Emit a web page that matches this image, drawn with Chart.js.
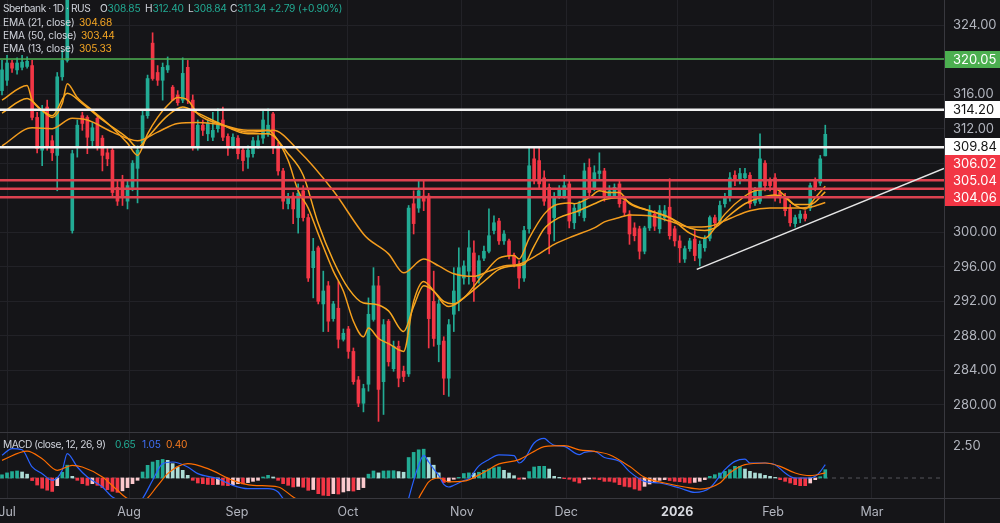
<!DOCTYPE html>
<html><head><meta charset="utf-8">
<script src="https://cdn.jsdelivr.net/npm/chart.js@4.4.1/dist/chart.umd.min.js"></script>
<style>
html,body{margin:0;padding:0;background:#151518;width:1000px;height:523px;overflow:hidden;}
#wrap{position:relative;width:1000px;height:523px;background:#151518;}
canvas{position:absolute;left:0;}
#c1{top:0;}
#c2{top:432px;}
.lg{position:absolute;font-family:Inter,"Noto Sans",sans-serif;font-size:10.2px;line-height:13px;color:#d1d4dc;white-space:pre;z-index:3;letter-spacing:-0.2px;}
.t{letter-spacing:-0.45px;}
.g{color:#22ab94}.o{color:#f5a623}.b{color:#3f6ff5}.r{color:#f57a1f}
</style></head><body>
<div id="wrap">
<canvas id="c1" width="1000" height="432"></canvas>
<canvas id="c2" width="1000" height="91"></canvas>
<div class="lg t" style="top:2px;left:3px">Sberbank · 1D · RUS</div>
<div class="lg" style="top:2px;left:100px">O<span class="g">308.85</span></div>
<div class="lg" style="top:2px;left:145px">H<span class="g">312.40</span></div>
<div class="lg" style="top:2px;left:188px">L<span class="g">308.84</span></div>
<div class="lg" style="top:2px;left:230px">C<span class="g">311.34 +2.79 (+0.90%)</span></div>
<div class="lg" style="top:16px;left:3px">EMA (21, close)</div><div class="lg o" style="top:16px;left:79px">304.68</div>
<div class="lg" style="top:29px;left:3px">EMA (50, close)</div><div class="lg o" style="top:29px;left:81px">303.44</div>
<div class="lg" style="top:42px;left:3px">EMA (13, close)</div><div class="lg o" style="top:42px;left:79px">305.33</div>
<div class="lg t" style="top:438px;left:3px">MACD (close, 12, 26, 9)</div>
<div class="lg g" style="top:438px;left:115px">0.65</div>
<div class="lg b" style="top:438px;left:142px">1.05</div>
<div class="lg r" style="top:438px;left:166px">0.40</div>
</div>
<script>
// ---------- DATA (daily bars, index 0 = 30 Jun 2025) ----------
const open = [316.4,317.6,319.6,318.8,319.1,319.2,319.3,313.3,309.5,314.5,
310.6,308.9,318.0,319.9,300.2,309.8,313.5,313.3,310.6,313.2,
310.9,309.2,309.5,305.2,306.0,303.6,305.2,307.4,310.3,313.5,
321.9,318.5,317.6,318.8,316.8,315.9,315.3,319.1,315.3,309.8,
312.4,311.4,311.0,312.0,313.0,311.1,310.0,310.9,309.5,308.7,
309.1,310.0,310.9,311.4,313.7,310.0,307.1,303.3,304.2,301.7,
304.8,301.7,295.9,298.2,291.7,293.8,290.0,291.2,287.6,288.8,
286.2,282.9,280.2,282.4,289.9,293.8,282.7,289.7,284.2,286.8,
283.9,283.6,303.3,302.8,304.2,304.2,292.0,287.0,287.4,283.1,
290.5,292.0,294.7,295.5,297.6,294.7,297.0,297.8,300.2,301.3,
299.0,299.0,297.3,296.3,294.7,300.4,308.5,308.3,306.3,305.2,
301.7,304.2,304.2,305.6,301.1,302.3,301.7,307.5,305.0,306.8,
307.1,304.2,304.2,305.6,303.6,302.1,300.5,300.4,297.8,300.5,
302.1,300.4,301.7,302.9,300.4,299.0,296.9,298.1,299.2,297.0,
298.2,299.3,301.7,301.3,303.3,304.0,306.6,306.0,306.3,306.6,
303.4,303.6,308.0,306.0,306.3,304.6,304.0,302.8,301.0,301.6,
302.1,302.8,306.0,305.7,308.85];
const high = [319.9,320.5,319.9,320.2,320.5,320.3,319.9,313.9,314.7,315.3,
311.2,318.5,321.1,328.6,309.5,313.0,313.9,313.5,312.7,313.5,
311.2,309.7,309.8,306.0,306.6,306.0,308.3,310.0,314.1,318.2,
323.1,319.3,319.6,320.3,317.0,316.4,320.2,319.9,315.9,313.0,
313.0,313.0,313.9,314.3,314.5,311.4,311.4,311.2,309.8,310.0,
311.0,311.2,314.1,314.3,313.9,310.4,307.4,304.5,304.6,305.6,
305.4,302.1,299.3,298.4,295.5,294.3,292.0,294.3,288.8,289.1,
286.6,283.3,282.4,292.4,295.9,294.9,289.9,289.9,287.4,287.4,
284.5,303.1,304.8,306.0,306.0,304.5,295.5,292.2,287.9,289.9,
295.9,298.2,296.7,300.2,299.0,297.3,298.4,302.7,301.9,301.6,
300.2,299.2,297.6,296.7,300.7,309.8,309.8,309.8,307.1,305.6,
304.6,305.4,306.6,306.0,303.3,303.6,308.0,308.5,307.7,309.2,
307.4,305.4,305.6,306.0,304.2,302.5,301.1,300.7,300.7,303.1,
302.5,303.1,303.1,306.2,300.7,299.6,298.4,299.3,300.2,299.0,
299.6,301.9,302.0,303.6,304.5,306.9,307.1,307.4,307.4,306.9,
305.2,311.4,308.3,306.3,306.8,305.0,304.5,303.2,302.0,302.5,
302.5,305.7,306.3,308.9,312.40];
const low = [315.9,317.0,318.5,318.3,318.8,319.0,313.0,309.2,307.7,309.5,
308.3,304.8,317.6,319.7,299.9,308.7,311.8,309.1,310.0,309.5,
307.1,307.7,304.2,303.1,303.1,302.7,304.8,303.4,309.8,313.2,
317.6,317.0,315.3,318.5,315.3,314.7,315.0,314.9,309.5,309.5,
311.2,310.6,310.6,311.6,310.6,308.9,309.7,308.5,307.1,307.4,
308.7,309.7,310.3,311.1,309.1,306.6,302.7,302.7,301.0,299.9,
301.3,294.3,292.4,291.7,288.5,288.5,289.7,286.6,287.4,285.4,
282.4,279.8,279.2,281.6,289.7,278.1,278.9,284.5,283.9,282.1,
282.7,283.3,299.8,302.3,302.5,286.6,286.8,285.0,281.2,281.0,
288.5,290.9,294.0,294.0,292.0,294.1,296.7,297.6,299.8,298.6,
298.6,296.9,296.0,293.5,294.3,299.9,305.6,305.0,303.1,297.5,
299.0,303.9,303.9,300.5,300.4,301.9,301.3,304.2,304.8,306.2,
303.6,303.9,304.0,302.9,301.9,298.6,299.0,296.9,297.5,300.2,
300.2,299.9,301.3,299.2,298.4,296.5,296.5,297.8,296.7,296.1,
297.8,299.0,300.6,301.0,302.9,303.6,305.4,305.6,306.0,302.8,
303.1,303.3,304.8,304.8,303.6,303.4,301.9,300.7,300.6,301.1,
301.3,302.5,304.8,305.4,308.84];
const close = [318.8,319.6,319.0,319.6,319.7,319.8,313.3,309.7,314.1,309.8,
309.2,318.0,319.9,327.5,309.1,312.4,312.6,311.0,312.1,309.8,
308.9,308.5,304.6,303.6,304.0,305.4,308.0,309.5,313.5,317.8,
317.8,317.6,319.1,319.3,315.3,315.0,318.4,315.3,309.8,312.4,
311.8,312.6,311.8,312.7,311.0,309.8,311.0,309.1,308.3,309.5,
310.6,310.6,313.0,312.4,309.8,307.1,303.6,304.0,302.7,304.5,
301.7,294.7,297.8,292.0,293.2,289.7,291.7,287.6,288.3,286.2,
282.7,280.2,281.9,290.5,293.8,281.8,289.3,285.0,286.8,283.1,
283.3,302.8,301.0,304.8,303.6,290.0,287.7,291.7,283.1,289.3,
293.2,295.9,296.1,298.2,294.3,296.7,297.8,299.6,301.1,299.0,
299.8,297.3,296.3,294.7,300.2,307.7,306.0,305.6,303.6,299.8,
304.0,305.0,305.4,301.3,302.8,303.3,307.1,304.6,306.9,307.1,
304.0,304.8,305.2,303.3,302.3,299.8,299.6,297.8,300.5,302.5,
300.7,302.5,302.5,299.6,299.0,298.2,298.1,299.0,297.3,298.6,
299.2,301.7,301.1,303.1,304.0,306.3,306.0,306.8,306.8,303.3,
304.8,308.5,305.4,305.4,304.0,304.0,302.5,301.1,301.7,302.1,
301.6,305.4,305.2,308.5,311.34];

// EMA readings [bar index, value]
const ema13 = [[0,315.3],[5,317.0],[6,315.3],[8,314.1],[10,313.3],[12,314.9],[13,317.2],[15,315.6],[18,314.1],[22,312.1],[25,310.3],[27,308.9],[29,311.4],[31,313.3],[33,314.7],[35,315.6],[37,315.3],[39,313.7],[41,313.0],[43,312.6],[49,311.8],[53,311.8],[54,311.4],[57,308.3],[59,304.8],[61,302.8],[63,299.8],[66,295.5],[68,293.2],[70,289.7],[72,287.9],[73,288.9],[75,287.7],[77,287.1],[79,286.4],[80,286.2],[82,292.0],[84,294.3],[86,293.2],[88,291.7],[89,291.4],[92,292.4],[96,295.2],[99,297.0],[102,297.3],[103,296.9],[105,299.3],[108,302.1],[110,303.1],[113,303.4],[114,303.3],[117,304.0],[119,304.8],[121,304.6],[123,304.6],[125,303.3],[129,302.5],[133,301.7],[137,299.9],[140,299.3],[142,300.5],[144,302.1],[148,304.2],[150,304.8],[154,305.0],[156,304.2],[158,303.1],[160,302.7],[162,304.0],[164,305.33]];
const ema21 = [[0,313.8],[5,315.5],[8,314.1],[10,313.5],[13,316.1],[16,314.9],[20,313.0],[25,310.9],[27,309.8],[29,311.0],[33,313.5],[36,314.5],[39,313.8],[43,312.7],[49,311.4],[53,311.4],[57,309.1],[60,306.6],[63,301.0],[66,296.7],[69,293.5],[72,291.8],[74,291.7],[77,290.9],[80,288.5],[82,291.4],[84,293.8],[86,293.2],[88,292.0],[90,291.7],[92,292.4],[96,294.3],[99,295.7],[102,296.1],[104,296.3],[106,298.4],[108,300.4],[111,301.7],[114,302.3],[118,303.3],[120,303.8],[123,304.0],[126,303.1],[130,302.3],[133,301.7],[137,300.5],[140,300.2],[142,300.5],[145,302.0],[148,303.3],[151,304.0],[154,304.3],[156,304.0],[158,303.2],[161,303.2],[164,304.68]];
const ema50 = [[0,310.0],[6,312.1],[10,312.0],[14,313.2],[17,313.0],[22,311.6],[27,310.6],[31,311.6],[35,312.6],[39,312.7],[43,312.5],[49,311.6],[54,311.8],[59,309.5],[66,304.8],[72,299.8],[73,299.2],[77,297.5],[80,295.3],[84,296.9],[87,296.1],[90,295.2],[94,294.9],[97,295.5],[100,296.1],[103,296.3],[107,297.5],[110,298.6],[114,299.6],[118,300.5],[120,301.2],[123,301.7],[125,302.0],[129,301.9],[133,301.3],[137,300.6],[141,300.7],[145,301.6],[149,302.5],[153,302.8],[157,302.8],[161,302.9],[164,303.44]];

// MACD histogram (one value per bar)
const hist = [0.25,0.4,0.5,0.55,0.47,0.3,-0.2,-0.55,-0.8,-0.95,
-1.05,-0.6,0.45,1.0,0.13,-0.18,-0.44,-0.57,-0.44,-0.57,
-0.75,-0.91,-1.04,-1.12,-1.0,-0.75,-0.44,-0.18,0.47,0.99,
1.25,1.38,1.45,1.38,1.12,0.86,0.6,0.21,-0.18,-0.39,
-0.44,-0.5,-0.52,-0.5,-0.57,-0.6,-0.52,-0.44,-0.46,-0.36,
-0.26,-0.18,0.08,0.21,0.08,-0.18,-0.44,-0.57,-0.7,-0.65,
-0.72,-0.96,-0.9,-1.22,-1.35,-1.38,-1.22,-1.25,-1.09,-1.0,
-1.02,-0.91,-0.75,0.3,0.55,0.4,0.55,0.56,0.57,0.5,
0.45,1.6,2.0,2.2,2.25,1.6,1.0,0.4,-0.35,-0.3,
-0.1,0.05,0.35,0.4,0.38,0.45,0.6,0.7,0.8,0.86,
0.6,0.39,0.18,-0.1,-0.08,0.5,0.86,0.91,0.91,0.7,
0.13,0.05,-0.05,-0.1,-0.26,-0.39,-0.13,-0.08,-0.08,-0.13,
-0.26,-0.26,-0.33,-0.52,-0.65,-0.7,-0.86,-0.96,-0.65,-0.47,
-0.34,-0.18,-0.13,-0.2,-0.26,-0.29,-0.34,-0.39,-0.34,-0.26,
-0.13,0.13,0.26,0.39,0.52,0.65,0.91,0.91,0.7,0.52,
0.39,0.34,0.21,0.13,0.05,-0.13,-0.26,-0.39,-0.52,-0.6,
-0.6,-0.39,-0.13,0.1,0.65];
const macdLine = [[0,1.77],[2,2.3],[4,2.2],[6,0.86],[8,0.34],[10,-0.18],[12,0.6],[13,1.9],[15,0.86],[17,0.08],[20,-0.7],[22,-1.48],[25,-1.9],[27,-2.0],[28,-1.6],[30,-0.18],[32,1.12],[34,1.25],[37,0.86],[39,0.34],[43,-0.05],[46,-0.57],[49,-0.83],[53,-0.83],[55,-1.09],[56,-1.6],[60,-2.6],[66,-4.3],[72,-5.2],[76,-4.4],[80,-3.1],[81,-1.6],[82,-0.2],[83,1.0],[84,1.77],[85,1.25],[86,0.7],[87,0.2],[88,-0.5],[89,-0.7],[90,-0.57],[92,-0.2],[93,-0.05],[95,0.95],[97,1.45],[99,1.8],[102,1.74],[103,1.17],[104,1.43],[106,2.73],[108,3.1],[109,2.8],[110,2.55],[112,2.47],[115,1.82],[116,2.0],[118,2.08],[120,1.6],[123,1.3],[125,0.5],[128,-0.26],[131,-0.39],[135,-0.78],[138,-1.12],[141,-0.78],[144,0.65],[146,1.3],[148,1.48],[149,1.17],[152,1.17],[154,1.04],[156,0.39],[158,0.0],[161,0.0],[162,0.13],[163,0.5],[164,1.05]];
const signalLine = [[0,1.38],[5,2.1],[8,1.5],[11,0.6],[14,0.99],[16,0.86],[20,0.08],[23,-0.96],[25,-1.6],[28,-1.8],[31,-0.6],[33,0.34],[37,1.12],[41,0.73],[46,-0.18],[50,-0.57],[55,-0.7],[58,-1.48],[62,-2.4],[70,-4.2],[76,-4.8],[80,-3.55],[82,-2.6],[83,-1.6],[84,-0.9],[85,-0.3],[87,0.0],[89,-0.3],[92,-0.25],[96,0.45],[99,1.1],[103,1.43],[106,2.08],[108,2.45],[112,2.53],[115,2.2],[118,2.08],[121,1.82],[125,0.91],[128,0.05],[132,-0.39],[136,-0.7],[139,-0.86],[143,-0.39],[145,0.4],[148,1.04],[152,1.17],[155,0.91],[158,0.39],[161,0.18],[164,0.4]];

// Horizontal levels and trend line
const levelValues = [320.05, 314.20, 309.84, 306.02, 305.04, 304.06];
const levelColors = ['#4caf50', '#f2f2f2', '#f2f2f2', '#de4250', '#de4250', '#de4250'];
const levelWidths = [1.5, 2.5, 2.5, 2.5, 2.5, 2.5];
const badgeBg = ['#4caf50', '#ffffff', '#ffffff', '#f23645', '#f23645', '#f23645'];
const badgeFg = ['#ffffff', '#131313', '#131313', '#ffffff', '#ffffff', '#ffffff'];
const trendIdx = [138.4, 187.65];
const trendVal = [295.7, 307.4];

// Axis ticks
const priceTicks = [280, 284, 288, 292, 296, 300, 304, 308, 312, 316, 320, 324];
const macdTicks = [2.5];
const monthTickIdx = [1.0, 25.3, 46.8, 68.9, 91.6, 112.4, 134.5, 153.6, 173.3];
const monthTickLabel = ['Jul', 'Aug', 'Sep', 'Oct', 'Nov', 'Dec', '2026', 'Feb', 'Mar'];

// ---------- CHART ----------
Chart.defaults.font.family = 'Inter, "Noto Sans", sans-serif';
const X_MIN = -0.4, X_MAX = 187.65;
const Y_MIN = 276.87, Y_MAX = 326.895;
const M_MIN = -1.56, M_MAX = 3.59;
const UP = '#22ab94', DOWN = '#f23645';
const GRID = '#222227';
const AXIS_LINE = '#38383e';
const TICK_COL = '#b2b5be';

const bars = close.map((c, i) => i);
const candleCol = bars.map(i => close[i] >= open[i] ? UP : DOWN);
const pts = arr => arr.map(p => ({x: p[0], y: p[1]}));
const emaDs = (label, arr, col) => ({
  type: 'line', label, data: pts(arr), borderColor: col, borderWidth: 1.5,
  pointRadius: 0, cubicInterpolationMode: 'monotone', order: 5
});
const levelDs = levelValues.map((v, i) => ({
  type: 'line', label: 'L' + v, data: [{x: X_MIN, y: v}, {x: X_MAX, y: v}],
  borderColor: levelColors[i], borderWidth: levelWidths[i], pointRadius: 0, order: 3
}));

const fixedY = w => s => { s.width = w; s.paddingTop = 0; s.paddingBottom = 0; };
const fixedX = h => s => { s.height = h; s.paddingLeft = 0; s.paddingRight = 0; };

const badgePlugin = {
  id: 'badges',
  afterDraw(chart) {
    const ys = chart.scales.y, ctx = chart.ctx, h = 17;
    const items = levelValues.map((v, i) => ({v, y: ys.getPixelForValue(v), i}));
    items.sort((a, b) => b.y - a.y);
    let prev = Infinity;
    items.forEach(it => { it.c = Math.min(it.y, prev - h); prev = it.c; });
    ctx.save();
    ctx.font = '13px Inter, "Noto Sans", sans-serif';
    ctx.textBaseline = 'middle';
    items.forEach(it => {
      ctx.fillStyle = badgeBg[it.i];
      ctx.fillRect(ys.left + 1, Math.round(it.c - h / 2), 1000 - ys.left - 1, h);
      ctx.fillStyle = badgeFg[it.i];
      ctx.fillText(it.v.toFixed(2), ys.left + 9, it.c + 0.5);
    });
    ctx.restore();
  }
};

new Chart(document.getElementById('c1'), {
  type: 'bar',
  data: {
    datasets: [
      {label: 'wick', data: bars.map(i => ({x: i, y: [low[i], high[i]]})), backgroundColor: candleCol,
       barThickness: 1, grouped: false, order: 10, minBarLength: 1},
      {label: 'body', data: bars.map(i => ({x: i, y: [open[i], close[i]]})), backgroundColor: candleCol,
       barThickness: 3, grouped: false, order: 9, minBarLength: 1},
      emaDs('EMA50', ema50, '#f39c1e'),
      emaDs('EMA21', ema21, '#f7a71f'),
      emaDs('EMA13', ema13, '#f5a01c'),
      ...levelDs,
      {type: 'line', label: 'trend', data: trendIdx.map((x, i) => ({x, y: trendVal[i]})),
       borderColor: '#e6e6e6', borderWidth: 1.5, pointRadius: 0, order: 2}
    ]
  },
  options: {
    responsive: false, animation: false, devicePixelRatio: 1,
    layout: {padding: 0},
    plugins: {legend: {display: false}, tooltip: {enabled: false}},
    scales: {
      x: {type: 'linear', min: X_MIN, max: X_MAX, offset: false,
          grid: {color: GRID, drawTicks: false, offset: false}, border: {display: false},
          ticks: {display: false},
          afterBuildTicks: a => { a.ticks = monthTickIdx.map(v => ({value: v})); },
          afterFit: fixedX(0)},
      y: {position: 'right', min: Y_MIN, max: Y_MAX,
          grid: {color: GRID, drawTicks: false}, border: {display: true, color: AXIS_LINE},
          ticks: {padding: 9, color: TICK_COL, font: {size: 13}, callback: v => Number(v).toFixed(2)},
          afterBuildTicks: a => { a.ticks = priceTicks.map(v => ({value: v})); },
          afterFit: fixedY(56)}
    }
  },
  plugins: [badgePlugin]
});

const histCol = hist.map((v, i) => {
  const p = i > 0 ? hist[i - 1] : v;
  if (v >= 0) return v >= p ? '#22ab94' : '#acdcd5';
  return v <= p ? '#f23645' : '#fbc9cd';
});

const paneLines = {
  id: 'paneLines',
  afterDraw(chart) {
    const ctx = chart.ctx, ca = chart.chartArea;
    ctx.save();
    ctx.strokeStyle = AXIS_LINE; ctx.lineWidth = 1;
    ctx.beginPath();
    ctx.moveTo(0, 0.5); ctx.lineTo(1000, 0.5);
    ctx.moveTo(0, ca.bottom + 0.5); ctx.lineTo(1000, ca.bottom + 0.5);
    ctx.moveTo(ca.right + 0.5, 0); ctx.lineTo(ca.right + 0.5, chart.height);
    ctx.stroke();
    ctx.restore();
  }
};

new Chart(document.getElementById('c2'), {
  type: 'bar',
  data: {
    datasets: [
      {label: 'hist', data: hist.map((v, i) => ({x: i, y: v})), backgroundColor: histCol,
       barThickness: 3, grouped: false, order: 6},
      {type: 'line', label: 'zero', data: [{x: X_MIN, y: 0}, {x: X_MAX, y: 0}], borderColor: '#55555b',
       borderWidth: 1, borderDash: [4, 4], pointRadius: 0, order: 7},
      {type: 'line', label: 'MACD', data: pts(macdLine), borderColor: '#2962ff', borderWidth: 1.2,
       pointRadius: 0, cubicInterpolationMode: 'monotone', order: 3},
      {type: 'line', label: 'Signal', data: pts(signalLine), borderColor: '#ff6d00', borderWidth: 1.2,
       pointRadius: 0, cubicInterpolationMode: 'monotone', order: 2}
    ]
  },
  options: {
    responsive: false, animation: false, devicePixelRatio: 1,
    layout: {padding: 0},
    plugins: {legend: {display: false}, tooltip: {enabled: false}},
    scales: {
      x: {type: 'linear', min: X_MIN, max: X_MAX, offset: false,
          grid: {color: GRID, drawTicks: false, offset: false}, border: {display: false},
          ticks: {autoSkip: false, maxRotation: 0, padding: 7,
                  color: c => monthTickLabel[c.index] === '2026' ? '#d8dae0' : TICK_COL,
                  font: c => ({size: 12.5, weight: monthTickLabel[c.index] === '2026' ? 'bold' : 'normal'}),
                  callback: (v, i) => monthTickLabel[i]},
          afterBuildTicks: a => { a.ticks = monthTickIdx.map(v => ({value: v})); },
          afterFit: fixedX(25)},
      y: {position: 'right', min: M_MIN, max: M_MAX,
          grid: {display: false, drawTicks: false}, border: {display: true, color: AXIS_LINE},
          ticks: {padding: 9, color: TICK_COL, font: {size: 13}, callback: v => Number(v).toFixed(2)},
          afterBuildTicks: a => { a.ticks = macdTicks.map(v => ({value: v})); },
          afterFit: fixedY(56)}
    }
  },
  plugins: [paneLines]
});
</script>
</body></html>
